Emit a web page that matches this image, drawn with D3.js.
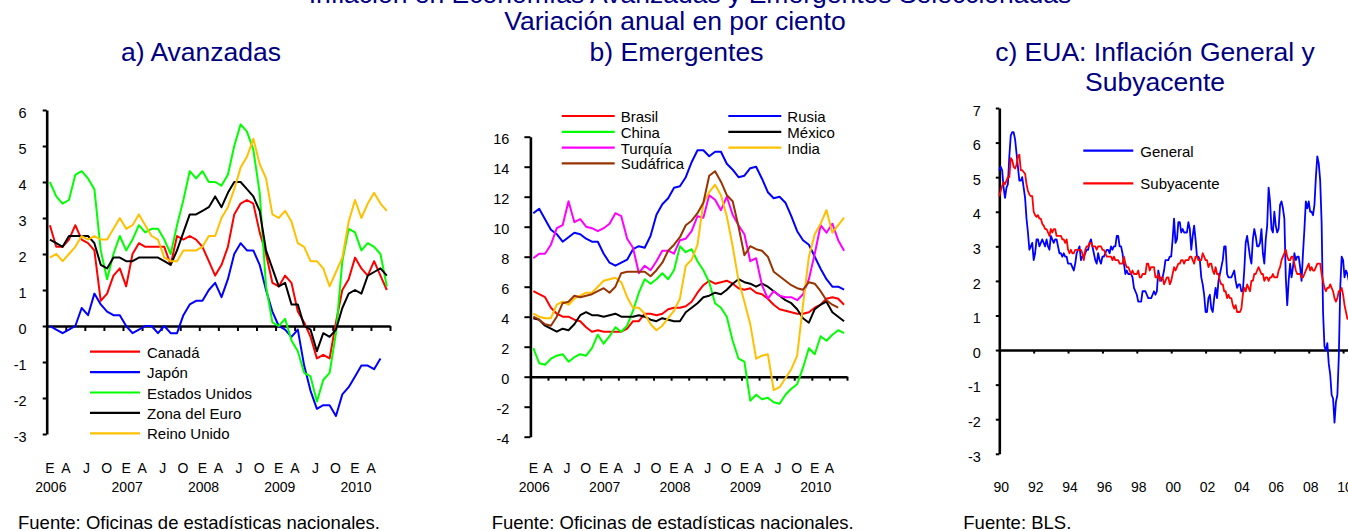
<!DOCTYPE html>
<html>
<head>
<meta charset="utf-8">
<script src="https://cdn.jsdelivr.net/npm/d3@7"></script>
<style>
  body { margin: 0; background: #fff; }
  svg text { font-family: Arial, "Liberation Sans", sans-serif; }
</style>
</head>
<body>
<svg id="chart" width="1348" height="531"></svg>
<script>
// ---- datos: mensual, ene 2006 - jun 2010 ----
const mesLetras = ["E", "A", "J", "O"];
const anios = ["2006", "2007", "2008", "2009", "2010"];

const canada = [2.8,2.2,2.2,2.4,2.8,2.4,2.3,2.1,0.7,0.9,1.4,1.6, 1.1,2.0,2.3,2.2,2.2,2.2,2.2,1.7,2.5,2.4,2.5,2.4,
  2.2,1.8,1.4,1.7,2.2,3.1,3.4,3.5,3.4,2.6,2.0,1.2, 1.1,1.4,1.2,0.4,0.1,-0.3,-0.9,-0.8,-0.9,0.1,1.0,1.3, 1.9,1.6,1.4,1.8,1.4,1.0];
const japon = [0.0,-0.1,-0.2,-0.1,0.0,0.5,0.3,0.9,0.6,0.4,0.3,0.3, 0.0,-0.2,-0.1,0.0,0.0,-0.2,0.0,-0.2,-0.2,0.3,0.6,0.7,
  0.7,1.0,1.2,0.8,1.3,2.0,2.3,2.1,2.1,1.7,1.0,0.4, 0.0,-0.1,-0.3,-0.1,-1.1,-1.8,-2.3,-2.2,-2.2,-2.5,-1.9,-1.7, -1.4,-1.1,-1.1,-1.2,-0.9];
const eeuu = [4.0,3.6,3.4,3.5,4.2,4.3,4.1,3.8,2.1,1.3,2.0,2.5, 2.1,2.4,2.8,2.6,2.7,2.7,2.4,2.0,2.8,3.5,4.3,4.1,
  4.3,4.0,4.0,3.9,4.2,5.0,5.6,5.4,4.9,3.7,1.1,0.1, 0.0,0.2,-0.4,-0.7,-1.3,-1.4,-2.1,-1.5,-1.3,-0.2,1.8,2.7, 2.6,2.1,2.3,2.2,2.0,1.1];
const zonaEuro = [2.4,2.3,2.2,2.5,2.5,2.5,2.5,2.3,1.7,1.6,1.9,1.9, 1.8,1.8,1.9,1.9,1.9,1.9,1.8,1.7,2.1,2.6,3.1,3.1,
  3.2,3.3,3.6,3.3,3.7,4.0,4.0,3.8,3.6,3.2,2.1,1.6, 1.1,1.2,0.6,0.6,0.0,-0.1,-0.7,-0.2,-0.3,-0.1,0.5,0.9, 1.0,0.9,1.4,1.5,1.6,1.4];
const reinoUnido = [1.9,2.0,1.8,2.0,2.2,2.5,2.4,2.5,2.4,2.4,2.7,3.0, 2.7,2.8,3.1,2.8,2.5,2.4,1.9,1.8,1.8,2.1,2.1,2.1,
  2.2,2.5,2.5,3.0,3.3,3.8,4.4,4.7,5.2,4.5,4.1,3.1, 3.0,3.2,2.9,2.3,2.2,1.8,1.8,1.6,1.1,1.5,1.9,2.9, 3.5,3.0,3.4,3.7,3.4,3.2];

const brasil = [5.7,5.5,5.3,4.6,4.2,4.0,4.0,3.8,3.7,3.3,3.0,3.1, 3.0,3.0,3.0,3.0,3.2,3.7,3.7,4.2,4.2,4.1,4.2,4.5,
  4.6,4.6,4.7,5.0,5.6,6.1,6.4,6.2,6.3,6.4,6.2,5.9, 5.8,5.9,5.6,5.5,5.2,4.8,4.5,4.4,4.3,4.2,4.2,4.3, 4.6,4.8,5.2,5.3,5.2,4.8];
const rusia = [10.9,11.2,10.5,9.8,9.5,9.0,9.3,9.6,9.5,9.2,9.0,9.0, 8.2,7.6,7.4,7.6,7.8,8.5,8.7,8.6,9.4,10.8,11.5,11.9,
  12.6,12.7,13.3,14.3,15.1,15.1,14.7,15.0,15.0,14.2,13.8,13.3, 13.4,13.9,14.0,13.2,12.3,11.9,12.0,11.6,10.7,9.7,9.1,8.8, 8.0,7.2,6.5,6.0,6.0,5.8];
const china = [1.9,0.9,0.8,1.2,1.4,1.5,1.0,1.3,1.5,1.4,1.9,2.8, 2.2,2.7,3.3,3.0,3.4,4.4,5.6,6.5,6.2,6.5,6.9,6.5,
  7.1,8.7,8.3,8.5,7.7,7.1,6.3,4.9,4.6,4.0,2.4,1.2, 1.0,-1.6,-1.2,-1.5,-1.4,-1.7,-1.8,-1.2,-0.8,-0.5,0.6,1.9, 1.5,2.7,2.4,2.8,3.1,2.9];
const mexico = [3.9,3.8,3.4,3.2,3.0,3.2,3.1,3.5,4.1,4.3,4.1,4.1, 4.0,4.1,4.2,4.0,4.0,4.0,4.1,4.0,3.8,3.7,3.9,3.8,
  3.7,3.7,4.3,4.6,4.9,5.3,5.4,5.6,5.5,5.8,6.2,6.5, 6.3,6.2,6.0,6.2,6.0,5.7,5.4,5.1,4.9,4.5,3.9,3.6, 4.5,4.8,5.0,4.3,4.0,3.7];
const turquia = [7.9,8.2,8.2,8.8,9.9,10.1,11.7,10.3,10.5,10.0,9.9,9.7, 9.9,10.2,10.9,10.7,9.2,8.6,6.9,7.4,7.1,7.7,8.4,8.4,
  8.2,9.1,9.2,9.7,10.7,10.6,12.1,11.8,11.1,12.0,10.8,10.1, 9.5,7.7,7.9,6.1,5.2,5.7,5.4,5.3,5.3,5.1,5.5,6.5, 8.2,10.1,9.6,10.2,9.1,8.4];
const india = [4.2,4.0,3.9,3.9,4.8,5.0,4.8,5.2,5.4,5.6,5.6,6.0, 6.4,6.5,6.6,6.3,5.3,4.6,4.6,4.2,3.5,3.1,3.4,3.9,
  4.4,5.2,7.4,7.8,8.8,11.6,12.3,12.8,12.1,10.7,8.7,6.4, 5.0,3.5,1.2,1.4,1.5,-0.9,-0.7,-0.1,0.5,1.4,4.8,8.0, 9.5,10.2,11.1,9.6,10.1,10.6];
const sudafrica = [4.0,3.8,3.5,3.4,4.0,4.9,5.0,5.4,5.3,5.4,5.5,5.7, 5.9,5.6,6.0,6.9,7.0,7.0,7.0,7.0,6.7,7.1,7.6,8.4,
  8.8,9.3,10.1,10.4,10.9,11.6,13.4,13.7,13.0,12.1,11.7,10.0, 8.1,8.7,8.5,8.4,8.0,7.0,6.7,6.4,6.1,5.9,5.8,6.3, 6.2,5.7,5.1,4.8,4.6];

// ---- EUA: mensual, ene 1990 - may 2010 ----
const aniosEUA = ["90","92","94","96","98","00","02","04","06","08","10"];
const general = [
  5.2,5.3,5.2,4.7,4.4,4.7,4.8,5.6,6.2,6.3,6.3,6.1,
  5.7,5.3,4.9,4.9,5.0,4.7,4.4,3.8,3.4,2.9,3.0,3.1,
  2.6,2.8,3.2,3.2,3.0,3.1,3.2,3.1,3.0,3.2,3.0,2.9,
  3.3,3.2,3.1,3.2,3.2,3.0,2.8,2.8,2.7,2.8,2.7,2.7,
  2.5,2.5,2.5,2.4,2.3,2.5,2.8,2.9,3.0,2.6,2.7,2.7,
  2.8,2.9,2.9,3.1,3.2,3.0,2.8,2.6,2.5,2.8,2.6,2.5,
  2.7,2.7,2.8,2.9,2.9,2.8,3.0,2.9,3.0,3.0,3.3,3.3,
  3.0,3.0,2.8,2.5,2.2,2.3,2.2,2.2,2.2,2.1,1.8,1.7,
  1.6,1.4,1.4,1.4,1.7,1.7,1.7,1.6,1.5,1.5,1.5,1.6,
  1.7,1.6,1.7,2.3,2.1,2.0,2.1,2.3,2.6,2.6,2.6,2.7,
  2.7,3.2,3.8,3.1,3.2,3.7,3.7,3.4,3.5,3.4,3.4,3.4,
  3.7,3.5,2.9,3.3,3.6,3.2,2.7,2.7,2.6,2.1,1.9,1.6,
  1.1,1.1,1.5,1.6,1.2,1.1,1.5,1.8,1.5,2.0,2.2,2.4,
  2.6,3.0,3.0,2.2,2.1,2.1,2.1,2.2,2.3,2.0,1.8,1.9,
  1.9,1.7,1.7,2.3,3.1,3.3,3.0,2.7,2.5,3.2,3.5,3.3,
  3.0,3.0,3.1,3.5,2.8,2.5,3.2,3.6,4.7,4.3,3.5,3.4,
  4.0,3.6,3.4,3.5,4.2,4.3,4.1,3.8,2.1,1.3,2.0,2.5,
  2.1,2.4,2.8,2.6,2.7,2.7,2.4,2.0,2.8,3.5,4.3,4.1,
  4.3,4.0,4.0,3.9,4.2,5.0,5.6,5.4,4.9,3.7,1.1,0.1,
  0.0,0.2,-0.4,-0.7,-1.3,-1.4,-2.1,-1.5,-1.3,-0.2,1.8,2.7,
  2.6,2.1,2.3,2.2,2.0];
const subyacente = [
  4.45,4.6,4.75,4.85,4.8,4.9,5.0,5.0,5.55,5.5,5.3,5.25,
  5.35,5.6,5.65,5.2,5.2,5.15,5.1,4.8,4.6,4.5,4.45,4.45,
  4.0,3.9,3.85,3.9,3.8,3.8,3.65,3.6,3.5,3.5,3.4,3.3,
  3.5,3.4,3.5,3.5,3.3,3.3,3.3,3.3,3.2,3.2,3.1,3.2,
  2.9,2.8,2.9,2.8,2.8,2.9,2.9,2.9,2.9,2.9,2.8,2.6,
  2.9,3.0,3.0,3.1,3.1,3.0,3.0,3.0,2.9,3.0,3.0,3.0,
  2.9,2.9,2.8,2.7,2.7,2.7,2.7,2.6,2.7,2.6,2.6,2.6,
  2.5,2.5,2.5,2.7,2.5,2.4,2.4,2.3,2.2,2.3,2.2,2.2,
  2.2,2.3,2.1,2.1,2.2,2.2,2.2,2.5,2.5,2.3,2.4,2.4,
  2.4,2.1,2.1,2.2,2.0,2.1,2.1,1.9,2.0,2.1,2.1,1.9,
  2.0,2.2,2.4,2.3,2.4,2.5,2.5,2.6,2.6,2.5,2.6,2.6,
  2.6,2.7,2.7,2.6,2.5,2.7,2.7,2.6,2.6,2.6,2.8,2.7,
  2.6,2.6,2.4,2.5,2.5,2.3,2.2,2.4,2.2,2.2,2.0,1.9,
  1.9,1.7,1.7,1.5,1.6,1.5,1.5,1.3,1.2,1.3,1.1,1.1,
  1.1,1.2,1.6,1.8,1.7,1.9,1.8,1.7,2.0,2.0,2.2,2.2,
  2.3,2.4,2.3,2.2,2.2,2.0,2.1,2.1,2.0,2.1,2.1,2.2,
  2.1,2.1,2.1,2.3,2.4,2.6,2.7,2.8,2.9,2.7,2.6,2.6,
  2.7,2.7,2.5,2.3,2.2,2.2,2.2,2.1,2.1,2.2,2.3,2.4,
  2.5,2.3,2.4,2.3,2.3,2.4,2.5,2.5,2.5,2.2,2.0,1.8,
  1.7,1.8,1.8,1.9,1.8,1.7,1.5,1.4,1.5,1.7,1.7,1.8,
  1.6,1.3,1.1,0.9,0.9];

const navy = '#000080';
const svg = d3.select('#chart');

// titulos
svg.append('text').attr('x', 690).attr('y', 3).attr('text-anchor', 'middle')
  .attr('font-size', 26.5).attr('fill', navy)
  .text('Inflación en Economías Avanzadas y Emergentes Seleccionadas');
svg.append('text').attr('x', 675).attr('y', 30).attr('text-anchor', 'middle')
  .attr('font-size', 26.5).attr('fill', navy).text('Variación anual en por ciento');

function panel(cfg) {
  const g = svg.append('g');
  const x = d3.scaleLinear().domain(cfg.xDomain).range(cfg.xRange);
  const y = d3.scaleLinear().domain(cfg.yDomain).range(cfg.yRange);

  cfg.title.forEach((t, k) => {
    g.append('text').attr('x', cfg.titleX).attr('y', cfg.titleY + k * 30)
      .attr('text-anchor', 'middle').attr('font-size', 26.5).attr('fill', navy).text(t);
  });

  // eje y
  const yAxis = d3.axisLeft(y)
    .tickValues(d3.range(cfg.yDomain[0], cfg.yDomain[1] + 0.01, cfg.yStep))
    .tickFormat(d => String(d))
    .tickSize(cfg.yTick).tickSizeOuter(0).tickPadding(cfg.yPad);
  const ya = g.append('g').attr('transform', `translate(${cfg.xRange[0]},0)`).call(yAxis);
  ya.attr('font-size', null).attr('font-family', null);
  ya.select('.domain').attr('stroke', '#000').attr('stroke-width', 2.6);
  ya.selectAll('.tick line').attr('stroke', '#000').attr('stroke-width', 2);
  ya.selectAll('.tick text').attr('font-size', 14.5).attr('fill', '#000').attr('dy', '0.5em');

  // eje x en el cero
  const xAxis = d3.axisBottom(x).tickValues(cfg.xTicks)
    .tickSize(cfg.xTick).tickSizeOuter(0).tickFormat('');
  const xa = g.append('g').attr('transform', `translate(0,${y(0)})`).call(xAxis);
  xa.select('.domain').attr('stroke', '#000').attr('stroke-width', 2.6);
  xa.selectAll('.tick line').attr('stroke', '#000').attr('stroke-width', 2);

  // series
  const line = d3.line().x((d, i) => x(i)).y(d => y(d));
  cfg.series.forEach(s => {
    g.append('path').datum(s.values).attr('d', line)
      .attr('fill', 'none').attr('stroke', s.color)
      .attr('stroke-width', cfg.lineWidth).attr('stroke-linejoin', 'round');
  });

  // leyenda
  cfg.series.forEach((s, k) => {
    const pos = cfg.legend(k);
    g.append('line').attr('x1', pos[0]).attr('x2', pos[0] + cfg.legendLine)
      .attr('y1', pos[1]).attr('y2', pos[1])
      .attr('stroke', s.color).attr('stroke-width', 2.2);
    g.append('text').attr('x', pos[0] + cfg.legendLine + cfg.legendGap).attr('y', pos[1] + 6)
      .attr('font-size', 15).attr('fill', '#000').text(s.name);
  });

  g.append('text').attr('x', cfg.fuenteX).attr('y', 528.5)
    .attr('font-size', 18.5).attr('fill', '#000').text(cfg.fuente);
  return { g, x, y };
}

// las letras de mes van un poco corridas como en el original
const corrimiento = [0, -3, -1.5, -0.5];
function etiquetasMeses(p) {
  d3.range(0, 52, 3).forEach((m, k) => {
    p.g.append('text').attr('x', p.x(m) + corrimiento[k % 4]).attr('y', 473).attr('text-anchor', 'middle')
      .attr('font-size', 14).attr('fill', '#000').text(mesLetras[k % 4]);
  });
  anios.forEach((a, k) => {
    p.g.append('text').attr('x', p.x(k * 12) + 1).attr('y', 491.5).attr('text-anchor', 'middle')
      .attr('font-size', 14).attr('fill', '#000').text(a);
  });
}

const ticksTrim = d3.range(2.5, 53.6, 3);

const pa = panel({
  title: ['a) Avanzadas'], titleX: 201, titleY: 61,
  xDomain: [-0.5, 53.5], xRange: [46.7, 390],
  yDomain: [-3, 6], yRange: [434, 110], yStep: 1, yTick: 4, yPad: 16,
  xTicks: ticksTrim, xTick: 5, lineWidth: 2,
  series: [
    { name: 'Canadá', values: canada, color: '#ff0000' },
    { name: 'Japón', values: japon, color: '#0000ff' },
    { name: 'Estados  Unidos', values: eeuu, color: '#00ff00' },
    { name: 'Zona del  Euro', values: zonaEuro, color: '#000000' },
    { name: 'Reino Unido', values: reinoUnido, color: '#ffc000' }
  ],
  legend: k => [90, 351.7 + k * 20.4], legendLine: 50, legendGap: 7,
  fuenteX: 18, fuente: 'Fuente: Oficinas de estadísticas nacionales.'
});
etiquetasMeses(pa);

const pb = panel({
  title: ['b) Emergentes'], titleX: 676.5, titleY: 60.5,
  xDomain: [-0.5, 53.5], xRange: [530.4, 847],
  yDomain: [-4, 16], yRange: [436.7, 136.7], yStep: 2, yTick: 6, yPad: 15,
  xTicks: ticksTrim, xTick: 4, lineWidth: 2,
  series: [
    { name: 'Brasil', values: brasil, color: '#ff0000' },
    { name: 'Rusia', values: rusia, color: '#0000ff' },
    { name: 'China', values: china, color: '#00ff00' },
    { name: 'México', values: mexico, color: '#000000' },
    { name: 'Turquía', values: turquia, color: '#ff00ff' },
    { name: 'India', values: india, color: '#ffc000' },
    { name: 'Sudáfrica', values: sudafrica, color: '#993300' }
  ],
  legend: k => [k % 2 === 0 ? 561.7 : 728.3, 116 + Math.floor(k / 2) * 15.8],
  legendLine: 53, legendGap: 6,
  fuenteX: 491.7, fuente: 'Fuente: Oficinas de estadísticas nacionales.'
});
etiquetasMeses(pb);

const pc = panel({
  title: ['c) EUA: Inflación General y', 'Subyacente'], titleX: 1155, titleY: 61,
  xDomain: [0, 246], xRange: [999.3, 999.3 + 246 * 1.4325],
  yDomain: [-3, 7], yRange: [453.8, 108], yStep: 1, yTick: 3.5, yPad: 15,
  xTicks: d3.range(24, 241, 24), xTick: 3.5, lineWidth: 1.8,
  series: [
    { name: 'General', values: general, color: '#0000ff' },
    { name: 'Subyacente', values: subyacente, color: '#ff0000' }
  ],
  legend: k => [1083.3, 150.7 + k * 32.6], legendLine: 50, legendGap: 7,
  fuenteX: 963.3, fuente: 'Fuente: BLS.'
});
aniosEUA.forEach((a, k) => {
  pc.g.append('text').attr('x', pc.x(k * 24) + 2).attr('y', 491.5).attr('text-anchor', 'middle')
    .attr('font-size', 14).attr('fill', '#000').text(a);
});
</script>
</body>
</html>
